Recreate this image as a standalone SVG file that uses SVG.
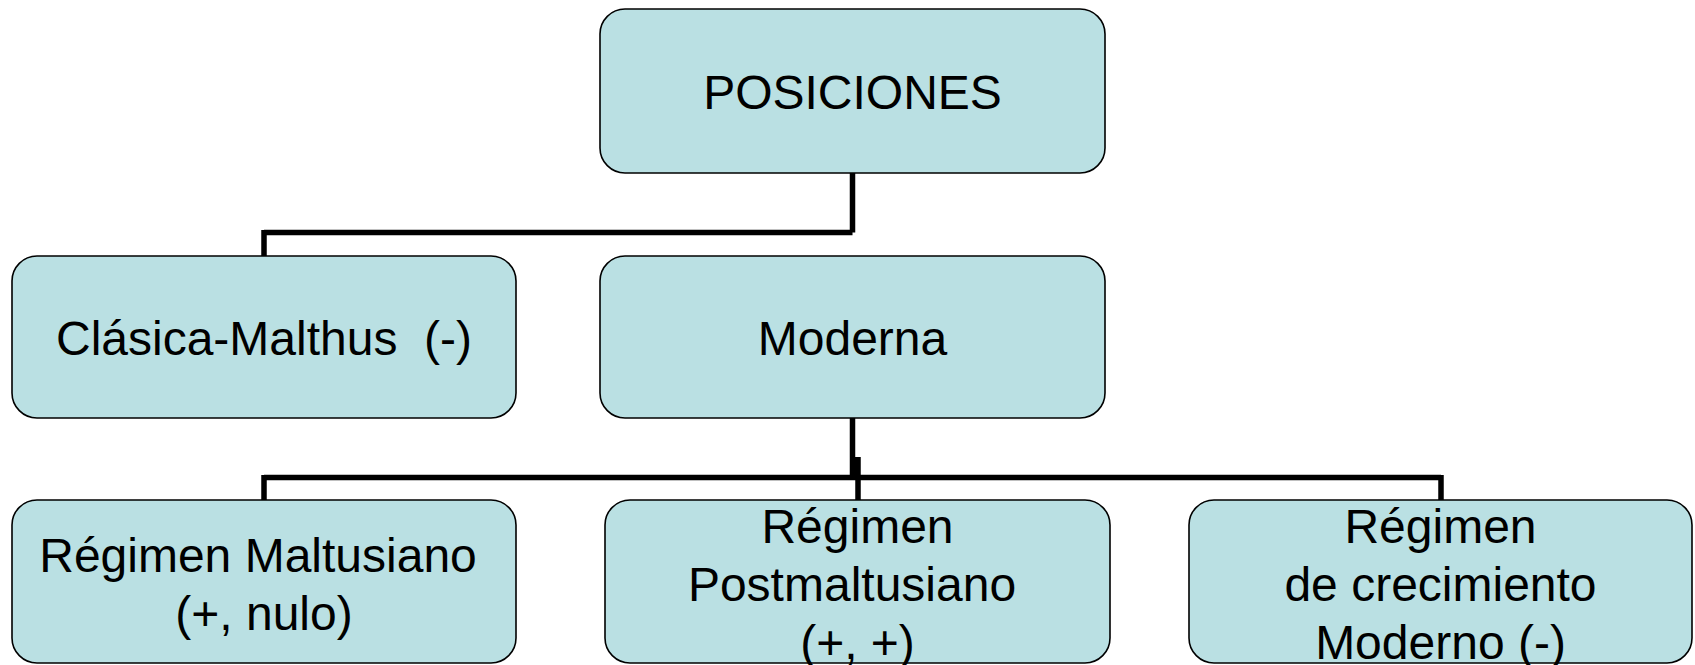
<svg xmlns="http://www.w3.org/2000/svg" width="1695" height="665" viewBox="0 0 1695 665">
<style>
.box{fill:#BAE0E3;stroke:#000;stroke-width:1.6}
.t{font-family:"Liberation Sans",Arial,sans-serif;font-size:48px;fill:#000;text-anchor:middle;white-space:pre}
.c{fill:none;stroke:#000;stroke-width:5.5}
</style>
<rect width="1695" height="665" fill="#fff"/>
<g id="connectors">
<path class="c" d="M852.5 173V232.5M264 232.5H852.5M264 230V256"/>
<path class="c" d="M852.5 418V480M858 457V500M264 477.5H1441M264 475V500M1441 475V500"/>
</g>
<g id="posiciones">
<rect class="box" x="600" y="9" width="505" height="164" rx="25"/>
<text class="t" x="852.5" y="109">POSICIONES</text>
</g>
<g id="clasica">
<rect class="box" x="12" y="256" width="504" height="162" rx="25"/>
<text class="t" x="264" y="355" xml:space="preserve">Clásica-Malthus  (-)</text>
</g>
<g id="moderna">
<rect class="box" x="600" y="256" width="505" height="162" rx="25"/>
<text class="t" x="852.5" y="355">Moderna</text>
</g>
<g id="maltusiano">
<rect class="box" x="12" y="500" width="504" height="163" rx="25"/>
<text class="t" x="258" y="572">Régimen Maltusiano</text>
<text class="t" x="264" y="630">(+, nulo)</text>
</g>
<g id="postmaltusiano">
<rect class="box" x="605" y="500" width="505" height="163" rx="25"/>
<text class="t" x="857.5" y="543">Régimen</text>
<text class="t" x="852" y="601">Postmaltusiano</text>
<text class="t" x="857.5" y="659">(+, +)</text>
</g>
<g id="crecimiento">
<rect class="box" x="1189" y="500" width="503" height="163" rx="25"/>
<text class="t" x="1440.5" y="543">Régimen</text>
<text class="t" x="1440.5" y="601">de crecimiento</text>
<text class="t" x="1440.5" y="659">Moderno (-)</text>
</g>
</svg>
